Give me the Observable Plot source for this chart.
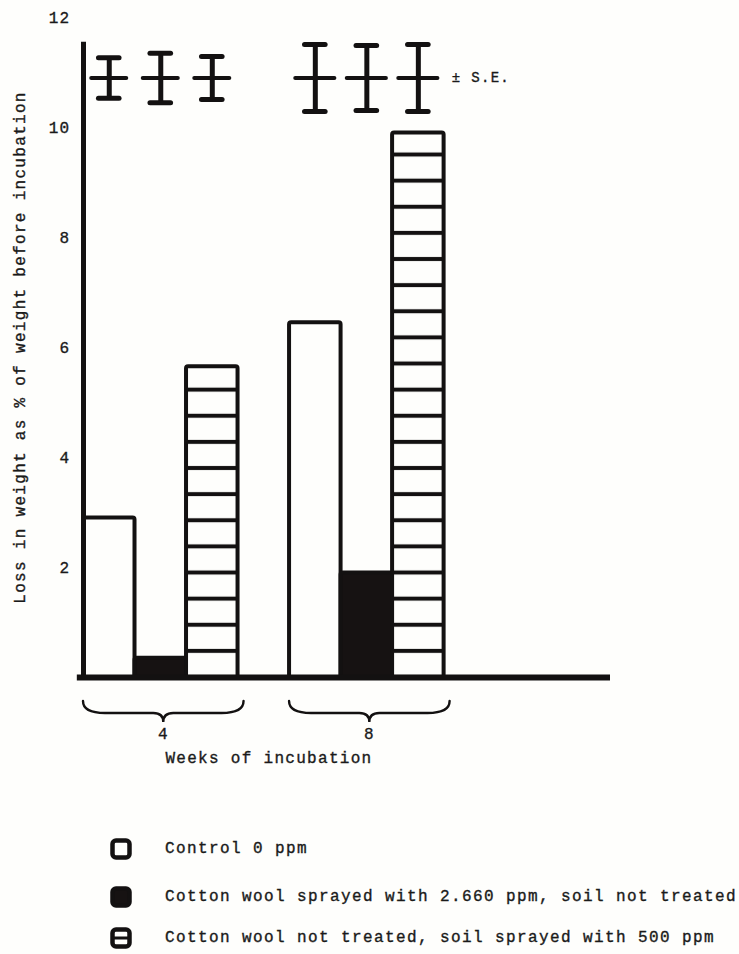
<!DOCTYPE html>
<html><head><meta charset="utf-8">
<script src="https://cdn.jsdelivr.net/npm/d3@7"></script>
<script src="https://cdn.jsdelivr.net/npm/@observablehq/plot@0.6"></script>
<style>
body{margin:0;background:#fefefc;font-family:"Liberation Mono",monospace;}
#wrap{position:relative;width:739px;height:954px;}
#wrap svg text{stroke:#1a1a1a;stroke-width:0.35px;letter-spacing:1.3px;}
.leg{position:absolute;left:110px;height:24px;display:flex;align-items:center;font-size:16px;letter-spacing:1.4px;color:#1a1a1a;white-space:nowrap;-webkit-text-stroke:0.35px #1a1a1a;}
.leg svg{margin-right:33px;flex:none}
</style></head><body><div id="wrap"></div>
<script>
// ---- data ----
const weeks = ["4", "8"];
const treatments = [
  "Control 0 ppm",
  "Cotton wool sprayed with 2.660 ppm, soil not treated",
  "Cotton wool not treated, soil sprayed with 500 ppm"
];
const loss4 = [2.9, 0.35, 5.65];
const loss8 = [6.45, 1.9, 9.9];
const se4 = [0.37, 0.45, 0.39];
const se8 = [0.61, 0.59, 0.61];
const yTicks = [2, 4, 6, 8, 10, 12];
const yLabel = "Loss in weight as % of weight before incubation";
const xLabel = "Weeks of incubation";
const seLabel = "\u00b1 S.E.";

// ---- table ----
const lossByWeek = [loss4, loss8], seByWeek = [se4, se8];
const rows = [];
weeks.forEach((w, wi) => treatments.forEach((t, ti) => rows.push({
  week: w, wi, ti, treatment: t, loss: lossByWeek[wi][ti], se: seByWeek[wi][ti], slot: wi * 4 + ti
})));

const ink = "#131111";
const fills = ["#fefefc", "#161212", "url(#stripes)"];
const seLevel = 10.9;

function defsMark(index, scales) {
  const y0 = scales.y(0), step = scales.y(0) - scales.y(0.475);
  const g = d3.create("svg:g");
  const p = g.append("defs").append("pattern")
    .attr("id", "stripes").attr("patternUnits", "userSpaceOnUse")
    .attr("width", 10).attr("height", step)
    .attr("patternTransform", `translate(0,${y0})`);
  p.append("rect").attr("width", 10).attr("height", step).attr("fill", "#fefefc");
  p.append("rect").attr("y", 0).attr("width", 10).attr("height", 2).attr("fill", ink);
  p.append("rect").attr("y", step - 2).attr("width", 10).attr("height", 2).attr("fill", ink);
  return g.node();
}

function braceMark(index, scales) {
  const g = d3.create("svg:g").attr("fill", "none").attr("stroke", ink)
    .attr("stroke-width", 2.4).attr("stroke-linecap", "round");
  const y0 = scales.y(0);
  const e = y0 + 24, h = y0 + 36, t = y0 + 45;
  weeks.forEach((w, i) => {
    const a = scales.x(i * 4), b = scales.x(i * 4 + 3) + 6, m = (a + b) / 2;
    g.append("path").attr("d",
      `M${a},${e} Q${a},${h} ${a + 22},${h} L${m - 10},${h} Q${m},${h} ${m},${t} Q${m},${h} ${m + 10},${h} L${b - 22},${h} Q${b},${h} ${b},${e}`);
  });
  return g.node();
}

const H = 790;
const chart = Plot.plot({
  width: 739, height: H,
  marginLeft: 83, marginRight: 129, marginTop: 17, marginBottom: H - 677,
  x: {domain: [0, 10.23], axis: null},
  y: {domain: [0, 12], ticks: yTicks, tickSize: 0, tickPadding: 13, label: null},
  style: {fontFamily: "Liberation Mono, monospace", fontSize: "16px", background: "transparent", color: "#1a1a1a", overflow: "visible"},
  marks: [
    defsMark,
    ...treatments.map((t, k) => Plot.rectY(rows.filter(d => d.ti === k), {
      x1: "slot", x2: d => d.slot + 1, y: "loss",
      fill: fills[k], stroke: ink, strokeWidth: 4, strokeLinejoin: "round", rx: 2
    })),
    Plot.ruleX([0], {y1: 0, y2: 11.55, stroke: ink, strokeWidth: 5}),
    Plot.ruleY([0], {x1: -0.12, x2: 10.23, stroke: ink, strokeWidth: 6}),
    // S.E. key
    Plot.ruleX(rows, {x: d => d.slot + 0.5, y1: d => seLevel - d.se, y2: d => seLevel + d.se, stroke: ink, strokeWidth: 5}),
    Plot.ruleY(rows, {y: seLevel, x1: d => d.slot + 0.5 - (d.wi ? 0.38 : 0.34), x2: d => d.slot + 0.5 + (d.wi ? 0.38 : 0.34), stroke: ink, strokeWidth: 4, strokeLinecap: "round"}),
    Plot.ruleY(rows, {y: d => seLevel + d.se, x1: d => d.slot + 0.3, x2: d => d.slot + 0.7, stroke: ink, strokeWidth: 5, strokeLinecap: "round"}),
    Plot.ruleY(rows, {y: d => seLevel - d.se, x1: d => d.slot + 0.3, x2: d => d.slot + 0.7, stroke: ink, strokeWidth: 5, strokeLinecap: "round"}),
    Plot.text([seLabel], {x: 7.15, y: seLevel, textAnchor: "start", fontSize: 14, fill: "#1a1a1a"}),
    // x labels
    braceMark,
    Plot.text(weeks, {x: (d, i) => i * 4 + 1.55, y: 0, dy: 56, text: d => d, fill: "#1a1a1a"}),
    Plot.text([xLabel], {x: 3.6, y: 0, dy: 80, fill: "#1a1a1a"}),
    Plot.text([yLabel], {frameAnchor: "left", textAnchor: "middle", dx: -64, rotate: -90, fill: "#1a1a1a"})
  ]
});
const wrap = document.getElementById("wrap");
wrap.appendChild(chart);

// ---- legend ----
const legendTops = [837, 885, 926];
treatments.forEach((t, k) => {
  const row = document.createElement("div");
  row.className = "leg";
  row.style.top = legendTops[k] + "px";
  let sw = `<svg width="22" height="22" viewBox="0 0 22 22"><rect x="2.5" y="2.5" width="17" height="17" rx="3.5" fill="${k === 1 ? "#161212" : "#fefefc"}" stroke="${ink}" stroke-width="4.5"/>`;
  if (k === 2) sw += `<line x1="2" y1="11" x2="20" y2="11" stroke="${ink}" stroke-width="3"/>`;
  sw += `</svg>`;
  row.innerHTML = sw + `<span>${t}</span>`;
  wrap.appendChild(row);
});
</script></body></html>
